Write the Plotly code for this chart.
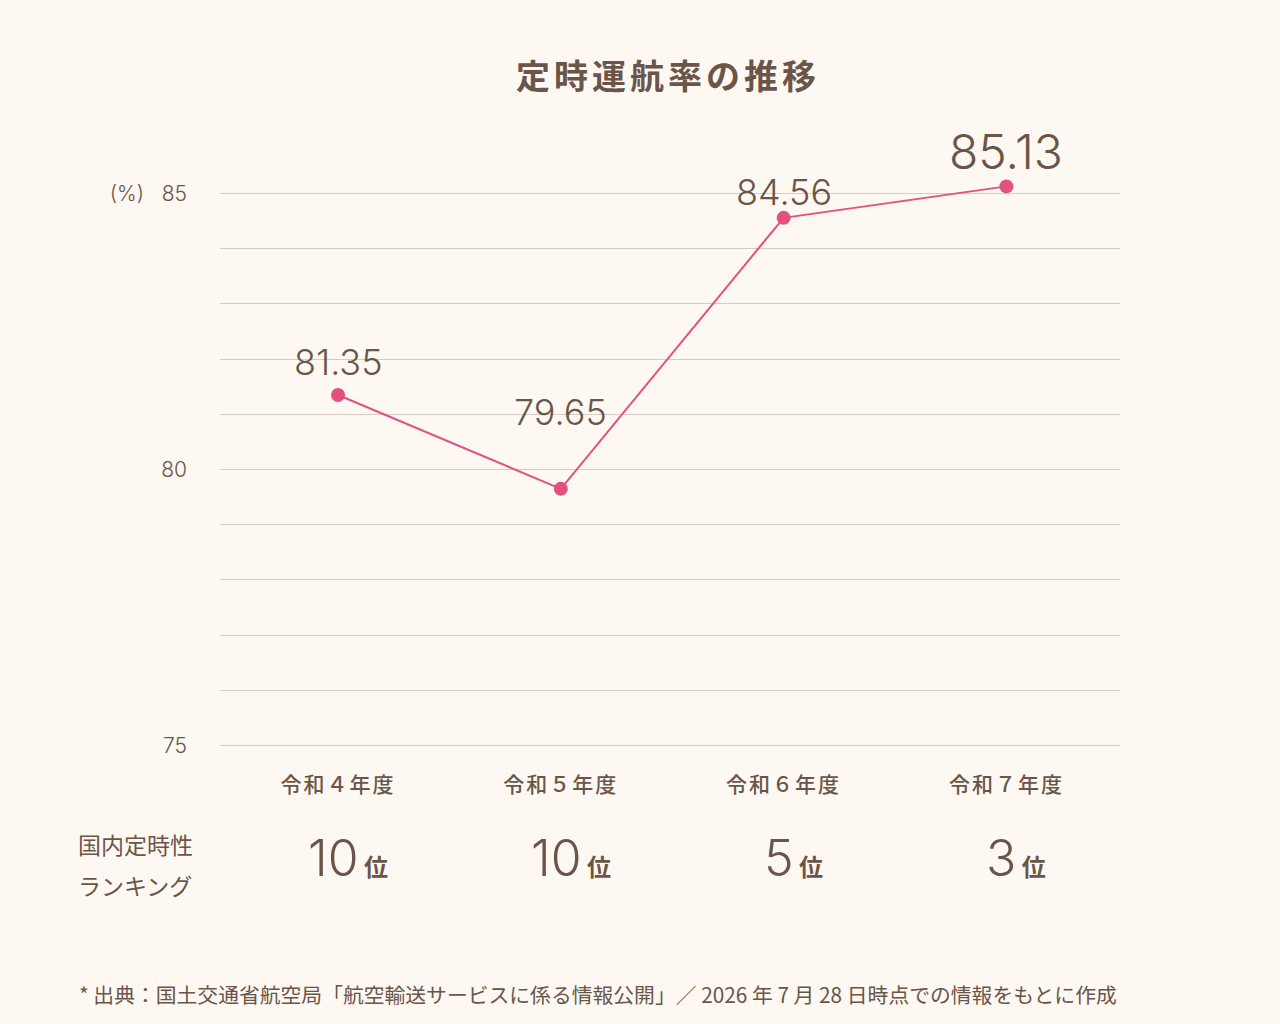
import plotly.graph_objects as go

categories = ["令和４年度", "令和５年度", "令和６年度", "令和７年度"]
rates = [81.35, 79.65, 84.56, 85.13]
rate_labels = ["81.35", "79.65", "84.56", "85.13"]
ranks = ["10", "10", "5", "3"]
y_ticks = [75, 76, 77, 78, 79, 80, 81, 82, 83, 84, 85]
y_ticktext = ["75", "", "", "", "", "80", "", "", "", "", "(%)   85"]

BG = "#fdf8f2"
BROWN = "#6b5548"
PINK = "#e4507f"
GRID = "#d6ccc3"
NUM_FONT = "Inter"
JP_FONT = "Noto Sans CJK JP"

W, H = 1280, 1024
PX_L, PX_R = 220, 1120
Y_LO, Y_HI = 74.9, 85.3
unit = (745 - 194) / 10.0
top_px = 194 - (Y_HI - 85) * unit
bot_px = 745 + (75 - Y_LO) * unit
plot_h = bot_px - top_px

def py(pix):
    return (bot_px - pix) / plot_h

def px(pix):
    return (pix - PX_L) / (PX_R - PX_L)

x = list(range(len(categories)))

fig = go.Figure()
fig.add_trace(go.Scatter(
    x=x, y=rates, mode="lines+markers",
    line=dict(color=PINK, width=2),
    marker=dict(color=PINK, size=14),
    cliponaxis=False, hoverinfo="skip", showlegend=False,
))

label_shift = [33, 77, 26, 35]
label_size = [36, 36, 36, 48]
for i, (v, t) in enumerate(zip(rates, rate_labels)):
    fig.add_annotation(x=i, y=v, text=t, showarrow=False, xref="x", yref="y",
                       yshift=label_shift[i],
                       font=dict(family=NUM_FONT, size=label_size[i], color=BROWN, weight=300))

for i, r in enumerate(ranks):
    fig.add_annotation(x=i, y=py(857), xref="x", yref="paper", showarrow=False,
                       xshift=10, yanchor="middle",
                       text=f"{r}<span style='font-family:{JP_FONT};font-size:24px;font-weight:700'> 位</span>",
                       font=dict(family=NUM_FONT, size=50, color=BROWN, weight=300))

fig.add_annotation(x=px(76), y=py(843), xref="paper", yref="paper", showarrow=False,
                   xanchor="left", yanchor="middle", text="国内定時性",
                   font=dict(family=JP_FONT, size=23, color=BROWN))
fig.add_annotation(x=px(76), y=py(884), xref="paper", yref="paper", showarrow=False,
                   xanchor="left", yanchor="middle", text="ランキング",
                   font=dict(family=JP_FONT, size=23, color=BROWN))

fig.add_annotation(x=px(77), y=py(993), xref="paper", yref="paper", showarrow=False,
                   xanchor="left", yanchor="middle",
                   text="* 出典：国土交通省航空局「航空輸送サービスに係る情報公開」／ 2026 年 7 月 28 日時点での情報をもとに作成",
                   font=dict(family=JP_FONT, size=20.8, color=BROWN))

fig.update_layout(
    width=W, height=H,
    paper_bgcolor=BG, plot_bgcolor=BG,
    margin=dict(l=PX_L, r=W - PX_R, t=top_px, b=H - bot_px),
    title=dict(text="<span style='letter-spacing:4px'><b>定時運航率の推移</b></span>",
               x=668 / W, xanchor="center", y=1 - 77 / H, yanchor="middle",
               font=dict(family=JP_FONT, size=34, color=BROWN)),
    xaxis=dict(range=[-0.53, 3.51], tickvals=x,
               ticktext=[f"<span style='letter-spacing:2px'>{c}</span>" for c in categories],
               showgrid=False, zeroline=False,
               showline=False, ticks="", ticklabelstandoff=14 + int(bot_px - 745),
               tickfont=dict(family=JP_FONT, size=21, color=BROWN, weight=500), fixedrange=True),
    yaxis=dict(range=[Y_LO, Y_HI], tickvals=y_ticks, ticktext=y_ticktext, showgrid=True, gridcolor=GRID,
               gridwidth=1, zeroline=False, showline=False, ticks="", ticklabelstandoff=32,
               tickfont=dict(family=NUM_FONT, size=21, color=BROWN, weight=300), fixedrange=True),
)

fig.write_html("out.html", config={"displayModeBar": False},
               post_script="document.body.style.margin='0';")
